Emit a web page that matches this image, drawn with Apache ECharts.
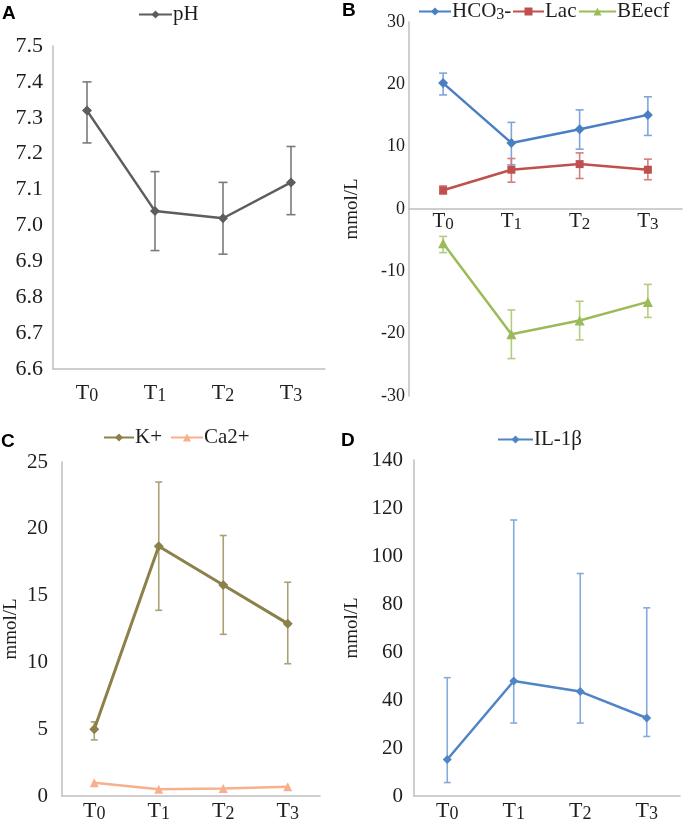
<!DOCTYPE html>
<html><head><meta charset="utf-8">
<script src="https://cdn.jsdelivr.net/npm/echarts@6/dist/echarts.min.js"></script>
<style>html,body{margin:0;padding:0;background:#fff}#c{width:685px;height:823px}</style>
</head><body><div id="c"></div>
<script>
// ---- data ----
const categories = ['T0', 'T1', 'T2', 'T3'];

const phMean  = [7.32, 7.04, 7.02, 7.12];
const phUpper = [7.40, 7.15, 7.12, 7.22];
const phLower = [7.23, 6.93, 6.92, 7.03];

const hco3Mean  = [20.2, 10.6, 12.8, 15.1];
const hco3Upper = [21.8, 13.9, 15.9, 18.0];
const hco3Lower = [18.3, 7.1, 9.6, 11.8];

const lacMean  = [3.0, 6.3, 7.2, 6.3];
const lacUpper = [3.7, 8.1, 9.0, 8.0];
const lacLower = [2.4, 4.3, 4.9, 4.7];

const beMean  = [-5.5, -20.1, -17.9, -14.9];
const beUpper = [-4.4, -16.2, -14.8, -12.1];
const beLower = [-7.0, -24.0, -21.0, -17.4];

const kMean  = [5.0, 18.7, 15.8, 12.9];
const kUpper = [5.55, 23.5, 19.5, 16.0];
const kLower = [4.2, 13.9, 12.1, 9.9];

const caMean = [1.0, 0.5, 0.57, 0.7];

const ilMean  = [15.2, 47.9, 43.5, 32.5];
const ilUpper = [49.3, 115, 92.7, 78.4];
const ilLower = [5.6, 30.4, 30.4, 24.8];

// axis ranges [min, max, interval]
const axisA = [6.6, 7.5, 0.1];
const axisB = [-30, 30, 10];
const axisC = [0, 25, 5];
const axisD = [0, 140, 20];

// ---- styling ----
const SERIF = 'Liberation Serif';
const AXIS_COLOR = '#bfbfbf';
const TEXT_COLOR = '#1e1e1e';

const grids = [
  {left: 53, top: 46, width: 272, height: 323},
  {left: 409, top: 22, width: 273, height: 374},
  {left: 62, top: 462, width: 258, height: 338},
  {left: 414, top: 460, width: 266, height: 339}
];

function richSub(fs) {
  return {
    n: {fontFamily: SERIF, fontSize: fs, lineHeight: fs + 2, color: TEXT_COLOR},
    s: {fontFamily: SERIF, fontSize: Math.round(fs * 0.8), lineHeight: Math.round(fs * 0.7), verticalAlign: 'bottom', color: TEXT_COLOR}
  };
}

function xAxisCfg(idx, margin, fs) {
  return {
    type: 'category', gridIndex: idx, data: categories, boundaryGap: true,
    axisLine: {show: true, onZero: true, lineStyle: {color: AXIS_COLOR, width: 1.5}},
    axisTick: {show: false},
    axisLabel: {
      margin: margin, color: TEXT_COLOR,
      formatter: v => '{n|T}{s|' + v.slice(1) + '}',
      rich: richSub(fs)
    },
    splitLine: {show: false}
  };
}

function yAxisCfg(idx, rng, fs, margin, dec, name, nameGap) {
  const cfg = {
    type: 'value', gridIndex: idx, min: rng[0], max: rng[1], interval: rng[2],
    axisLine: {show: true, lineStyle: {color: AXIS_COLOR, width: 1.5}},
    axisTick: {show: false},
    splitLine: {show: false},
    axisLabel: {
      margin: margin, color: TEXT_COLOR, fontFamily: SERIF, fontSize: fs,
      formatter: v => dec ? Number(v).toFixed(dec) : String(Math.round(v))
    }
  };
  if (name) {
    cfg.name = name;
    cfg.nameLocation = 'middle';
    cfg.nameGap = nameGap;
    cfg.nameRotate = 90;
    cfg.nameTextStyle = {fontFamily: SERIF, fontSize: 19, color: TEXT_COLOR};
  }
  return cfg;
}

function lineSeries(idx, name, data, color, symbol, size, width) {
  return {
    type: 'line', name: name, xAxisIndex: idx, yAxisIndex: idx, data: data,
    symbol: symbol, symbolSize: size, z: 4,
    lineStyle: {color: color, width: width},
    itemStyle: {color: color},
    emphasis: {disabled: true}
  };
}

function errSeries(idx, lower, upper, color, cap, lw) {
  return {
    type: 'custom', xAxisIndex: idx, yAxisIndex: idx, z: 2, silent: true,
    data: lower.map((l, i) => [i, l, upper[i]]),
    encode: {x: 0, y: [1, 2]},
    renderItem: function (params, api) {
      const lo = api.coord([api.value(0), api.value(1)]);
      const hi = api.coord([api.value(0), api.value(2)]);
      const st = {stroke: color, lineWidth: lw};
      return {
        type: 'group', children: [
          {type: 'line', shape: {x1: lo[0], y1: lo[1], x2: hi[0], y2: hi[1]}, style: st},
          {type: 'line', shape: {x1: lo[0] - cap, y1: lo[1], x2: lo[0] + cap, y2: lo[1]}, style: st},
          {type: 'line', shape: {x1: hi[0] - cap, y1: hi[1], x2: hi[0] + cap, y2: hi[1]}, style: st}
        ]
      };
    }
  };
}

function legendCfg(name, left, top, itemWidth, fs, formatter) {
  const l = {
    data: [name], left: left, top: top, padding: 0, itemGap: 0,
    itemWidth: itemWidth, itemHeight: 10, selectedMode: false,
    textStyle: {fontFamily: SERIF, fontSize: fs, color: TEXT_COLOR, padding: [0, 0, 0, -4],
      rich: {
        n: {fontFamily: SERIF, fontSize: fs, lineHeight: fs + 2, color: TEXT_COLOR},
        s: {fontFamily: SERIF, fontSize: Math.round(fs * 0.75), lineHeight: Math.round(fs * 0.65), verticalAlign: 'bottom', color: TEXT_COLOR}
      }
    }
  };
  if (formatter) l.formatter = formatter;
  return l;
}

const cPH = '#5d5d5d', cPHerr = '#7a7a7a';
const cHCO = '#4a7fc4', cHCOerr = '#7ea6d8';
const cLac = '#c0504d', cLacErr = '#d27f7d';
const cBE = '#9bbb59', cBEerr = '#b3cd80';
const cK = '#8c8149', cKerr = '#aaa176';
const cCa = '#f8b08c';
const cIL = '#4f84c6', cILerr = '#86abdb';

const option = {
  animation: false,
  backgroundColor: '#ffffff',
  grid: grids,
  xAxis: [
    xAxisCfg(0, 12, 22),
    xAxisCfg(1, -186, 21),
    xAxisCfg(2, 3, 22),
    xAxisCfg(3, 3, 22)
  ],
  yAxis: [
    yAxisCfg(0, axisA, 22, 10, 1, null, 0),
    yAxisCfg(1, axisB, 18, 4, 0, 'mmol/L', 47),
    yAxisCfg(2, axisC, 21, 14, 0, 'mmol/L', 41),
    yAxisCfg(3, axisD, 21, 11, 0, 'mmol/L', 52)
  ],
  legend: [
    legendCfg('pH', 138, 4, 33, 21),
    legendCfg('HCO3-', 418, 1, 32, 21, () => '{n|HCO}{s|3}{n|-}'),
    legendCfg('Lac', 512, 1, 31, 21),
    legendCfg('BEecf', 578, 1, 37, 21),
    legendCfg('K+', 103, 427, 30, 21),
    legendCfg('Ca2+', 170, 427, 32, 21),
    legendCfg('IL-1β', 497, 429, 35, 21)
  ],
  graphic: [
    {type: 'text', left: 2, top: 4, style: {text: 'A', font: 'bold 19px "Liberation Sans"', fill: '#000'}},
    {type: 'text', left: 342, top: 1, style: {text: 'B', font: 'bold 19px "Liberation Sans"', fill: '#000'}},
    {type: 'text', left: 1, top: 432, style: {text: 'C', font: 'bold 19px "Liberation Sans"', fill: '#000'}},
    {type: 'text', left: 341, top: 431, style: {text: 'D', font: 'bold 19px "Liberation Sans"', fill: '#000'}}
  ],
  series: [
    errSeries(0, phLower, phUpper, cPHerr, 4.5, 1.6),
    lineSeries(0, 'pH', phMean, cPH, 'diamond', 10, 2.5),

    errSeries(1, hco3Lower, hco3Upper, cHCOerr, 4, 1.6),
    errSeries(1, lacLower, lacUpper, cLacErr, 4, 1.6),
    errSeries(1, beLower, beUpper, cBEerr, 4, 1.6),
    lineSeries(1, 'HCO3-', hco3Mean, cHCO, 'diamond', 10, 2.5),
    lineSeries(1, 'Lac', lacMean, cLac, 'rect', 8, 2.5),
    lineSeries(1, 'BEecf', beMean, cBE, 'triangle', 10, 2.5),

    errSeries(2, kLower, kUpper, cKerr, 3.5, 1.6),
    lineSeries(2, 'K+', kMean, cK, 'diamond', 10, 3),
    lineSeries(2, 'Ca2+', caMean, cCa, 'triangle', 9, 2.5),

    errSeries(3, ilLower, ilUpper, cILerr, 3.5, 1.6),
    lineSeries(3, 'IL-1β', ilMean, cIL, 'diamond', 9, 2.5)
  ]
};

const chart = echarts.init(document.getElementById('c'), null, {renderer: 'canvas'});
chart.setOption(option);
</script>
</body></html>
